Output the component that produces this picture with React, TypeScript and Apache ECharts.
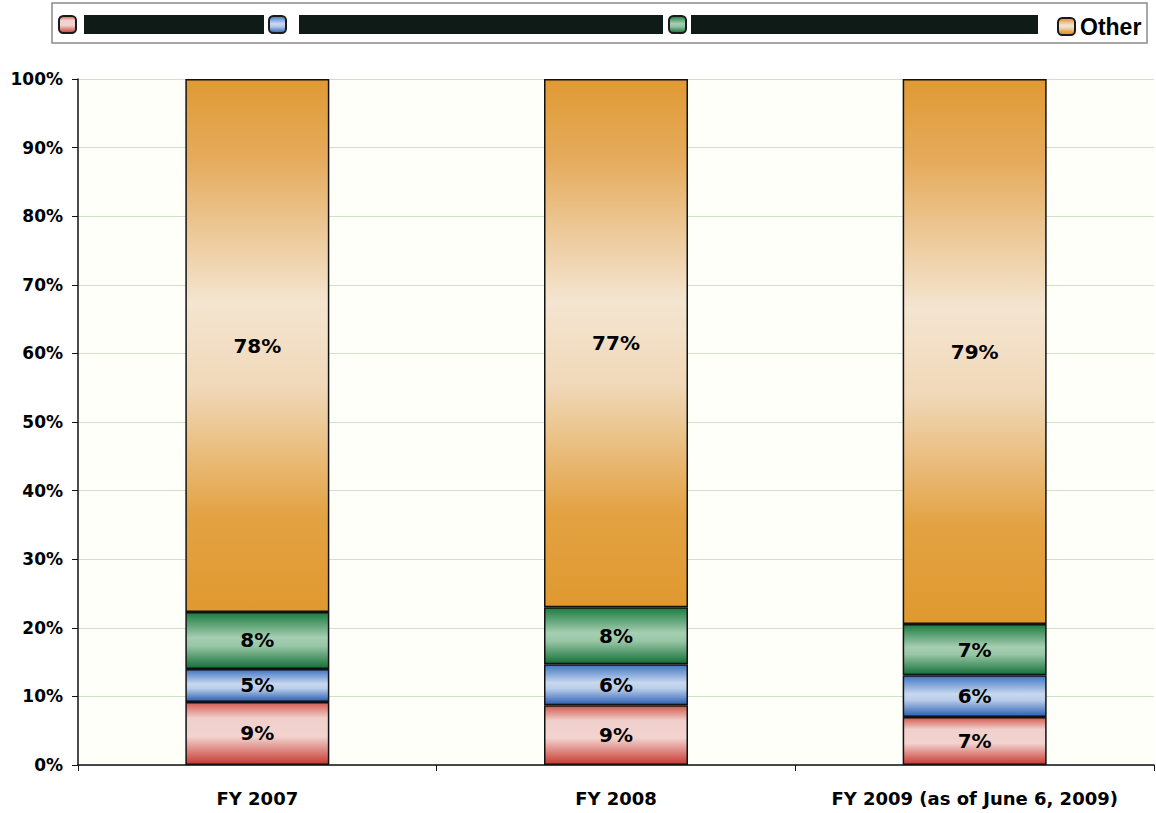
import React, { useEffect, useRef } from "react";
import * as echarts from "echarts";

const categories = ["FY 2007", "FY 2008", "FY 2009 (as of June 6, 2009)"];
const seriesNames = ["Redacted 1", "Redacted 2", "Redacted 3", "Other"];
const redValues = [9.2, 8.7, 7.0];
const blueValues = [4.8, 6.0, 6.1];
const greenValues = [8.3, 8.3, 7.45];
const otherValues = [77.7, 77.0, 79.45];
const yTicks = [0, 10, 20, 30, 40, 50, 60, 70, 80, 90, 100];

const grad = (stops: [number, string][]) =>
  new echarts.graphic.LinearGradient(
    0,
    0,
    0,
    1,
    stops.map(([offset, color]) => ({ offset, color }))
  );

const redFill = () =>
  grad([
    [0, "#d45a50"],
    [0.25, "#f1d0cc"],
    [0.55, "#f2d3cf"],
    [1, "#c73a31"],
  ]);
const blueFill = () =>
  grad([
    [0, "#3f75c4"],
    [0.45, "#c8d8ee"],
    [0.6, "#b9cdea"],
    [1, "#2c60b2"],
  ]);
const greenFill = () =>
  grad([
    [0, "#1d7c40"],
    [0.45, "#a6ceb2"],
    [0.6, "#98c6a6"],
    [1, "#15703a"],
  ]);
const otherFill = () =>
  grad([
    [0, "#e09a34"],
    [0.15, "#e5ab5c"],
    [0.42, "#f4e5d1"],
    [0.58, "#f0d8b8"],
    [0.82, "#e3a243"],
    [1, "#e0992f"],
  ]);

const fills = [redFill, blueFill, greenFill, otherFill];
const valueSets = [redValues, blueValues, greenValues, otherValues];

const LABEL_FONT = "'DejaVu Sans', sans-serif";

export default function App() {
  const ref = useRef<HTMLDivElement>(null);

  useEffect(() => {
    if (!ref.current) return;
    const chart = echarts.init(ref.current, null, { renderer: "svg" });

    const blockWidths = [180, 364, 347];
    const spacers = [3, 8, 0];
    const legendLefts = [58, 268, 668, 1057];

    const legends = seriesNames.map((name, i) => ({
      show: true,
      left: legendLefts[i],
      top: 15,
      padding: 0,
      itemWidth: 17,
      itemHeight: 17,
      selectedMode: false,
      icon: "roundRect",
      data: [
        {
          name,
          itemStyle: {
            color: fills[i](),
            borderColor: "#1a1a1a",
            borderWidth: 2,
          },
        },
      ],
      formatter: (n: string) =>
        i < 3 ? `{s${i}|}{b${i}|}` : `{o|${n}}`,
      textStyle: {
        rich: {
          s0: { width: spacers[0], height: 19 },
          s1: { width: spacers[1], height: 19 },
          s2: { width: spacers[2], height: 19 },
          b0: { width: blockWidths[0], height: 19, backgroundColor: "#0e1b17" },
          b1: { width: blockWidths[1], height: 19, backgroundColor: "#0e1b17" },
          b2: { width: blockWidths[2], height: 19, backgroundColor: "#0e1b17" },
          o: {
            fontFamily: "'Liberation Sans', Arial, sans-serif",
            fontWeight: "bold",
            fontSize: 23,
            color: "#000",
          },
        },
      },
    }));

    const series = seriesNames.map((name, i) => ({
      name,
      type: "bar",
      stack: "total",
      barWidth: 144,
      data: valueSets[i],
      itemStyle: {
        color: fills[i](),
        borderColor: "#111",
        borderWidth: 1.5,
      },
      label: {
        show: true,
        position: "inside",
        formatter: (p: any) => `${Math.round(p.value)}%`,
        fontFamily: LABEL_FONT,
        fontWeight: "bold",
        fontSize: 20,
        color: "#000",
      },
    }));

    chart.setOption({
      animation: false,
      backgroundColor: "#ffffff",
      graphic: [
        {
          type: "rect",
          shape: { x: 52, y: 3, width: 1095, height: 40 },
          style: { fill: "none", stroke: "#8a8a8a", lineWidth: 1.5 },
          z: 0,
        },
      ],
      legend: legends,
      grid: {
        left: 78,
        right: 2,
        top: 79,
        bottom: 48,
        show: true,
        backgroundColor: "#fffffa",
        borderWidth: 0,
      },
      xAxis: {
        type: "category",
        data: categories,
        axisLine: { lineStyle: { color: "#111", width: 1.5 } },
        axisTick: { show: true, length: 6, lineStyle: { color: "#111", width: 1 } },
        axisLabel: {
          interval: 0,
          hideOverlap: false,
          fontFamily: LABEL_FONT,
          fontWeight: "bold",
          fontSize: 18,
          color: "#000",
          margin: 24,
        },
      },
      yAxis: {
        type: "value",
        min: yTicks[0],
        max: yTicks[yTicks.length - 1],
        interval: 10,
        axisLine: { show: true, lineStyle: { color: "#111", width: 1.5 } },
        axisTick: { show: true, length: 6, lineStyle: { color: "#111", width: 1 } },
        axisLabel: {
          formatter: "{value}%",
          fontFamily: LABEL_FONT,
          fontWeight: "bold",
          fontSize: 17,
          color: "#000",
          margin: 15,
        },
        splitLine: { show: true, lineStyle: { color: "#cfe2c8", width: 1 } },
      },
      series,
    });

    return () => chart.dispose();
  }, []);

  return (
    <div
      ref={ref}
      style={{ position: "absolute", left: 0, top: 0, width: 1156, height: 813 }}
    />
  );
}
